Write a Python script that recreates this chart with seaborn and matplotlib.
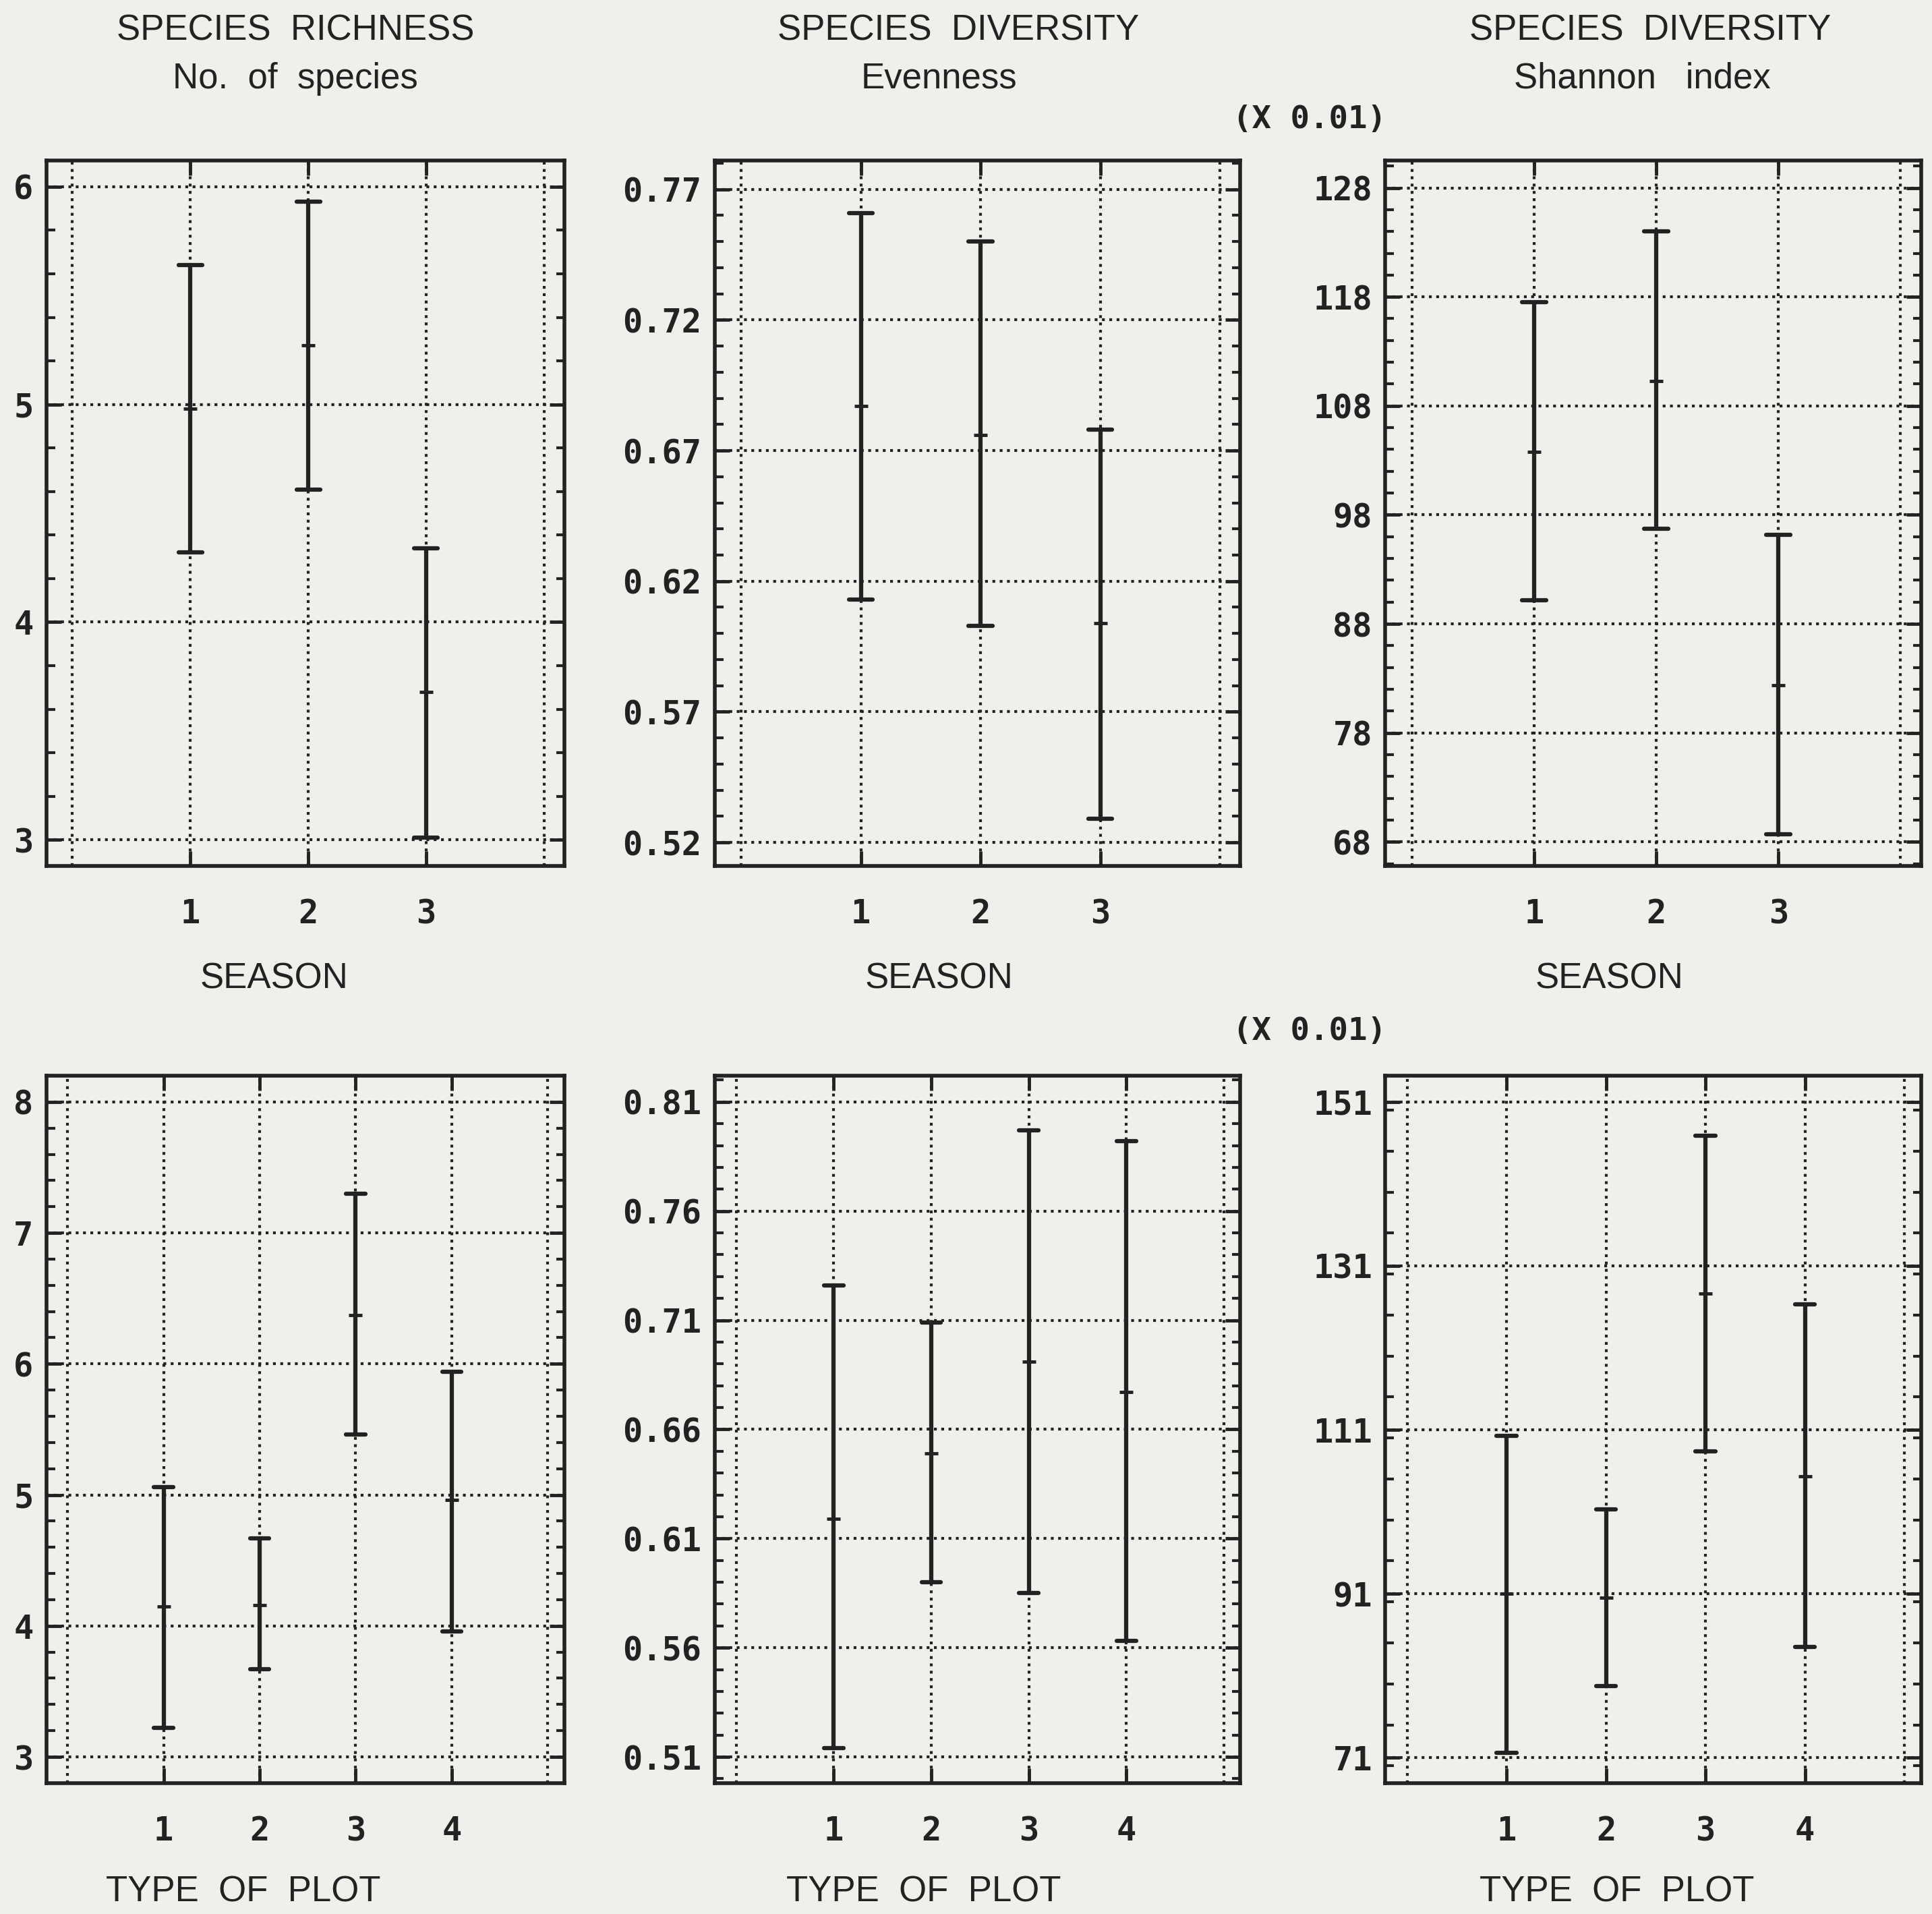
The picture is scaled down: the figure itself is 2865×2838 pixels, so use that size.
import numpy as np
import pandas as pd
import seaborn as sns
import matplotlib.pyplot as plt
from matplotlib.ticker import MultipleLocator, FixedLocator

# categories on the x axes
season = [1, 2, 3]
plot_type = [1, 2, 3, 4]

# species richness, by season: mean and lower / upper ends of the bars
rich_season_mean = [4.98, 5.27, 3.68]
rich_season_low = [4.32, 4.61, 3.01]
rich_season_high = [5.64, 5.93, 4.34]

# evenness, by season
even_season_mean = [0.687, 0.676, 0.604]
even_season_low = [0.613, 0.603, 0.529]
even_season_high = [0.761, 0.750, 0.678]

# shannon index (x 0.01), by season
shan_season_mean = [103.8, 110.3, 82.4]
shan_season_low = [90.2, 96.7, 68.7]
shan_season_high = [117.5, 124.0, 96.2]

# species richness, by type of plot
rich_type_mean = [4.15, 4.16, 6.37, 4.96]
rich_type_low = [3.22, 3.67, 5.46, 3.96]
rich_type_high = [5.06, 4.67, 7.30, 5.94]

# evenness, by type of plot
even_type_mean = [0.619, 0.649, 0.691, 0.677]
even_type_low = [0.514, 0.590, 0.585, 0.563]
even_type_high = [0.726, 0.709, 0.797, 0.792]

# shannon index (x 0.01), by type of plot
shan_type_mean = [91.0, 90.5, 127.6, 105.3]
shan_type_low = [71.6, 79.7, 108.4, 84.5]
shan_type_high = [110.3, 101.3, 146.9, 126.3]

# y tick labels
rich_season_ticks = [3, 4, 5, 6]
even_season_ticks = [0.52, 0.57, 0.62, 0.67, 0.72, 0.77]
shan_season_ticks = [68, 78, 88, 98, 108, 118, 128]
rich_type_ticks = [3, 4, 5, 6, 7, 8]
even_type_ticks = [0.51, 0.56, 0.61, 0.66, 0.71, 0.76, 0.81]
shan_type_ticks = [71, 91, 111, 131, 151]

INK = '#222222'
BG = '#efefec'

sns.set_theme(style='ticks')
plt.rcParams['font.family'] = ['Liberation Sans', 'DejaVu Sans']

fig = plt.figure(figsize=(28.65, 28.38), dpi=100, facecolor=BG)

panels = [
    # x, mean, low, high, yticks, fmt, minor, ylim, rect
    (season, rich_season_mean, rich_season_low, rich_season_high, rich_season_ticks, '{:.0f}', 0.2,
     (2.88, 6.12), [0.024, 0.5476, 0.268, 0.3685]),
    (season, even_season_mean, even_season_low, even_season_high, even_season_ticks, '{:.2f}', 0.01,
     (0.511, 0.781), [0.370, 0.5476, 0.272, 0.3685]),
    (season, shan_season_mean, shan_season_low, shan_season_high, shan_season_ticks, '{:.0f}', 2,
     (65.8, 130.5), [0.717, 0.5476, 0.2775, 0.3685]),
    (plot_type, rich_type_mean, rich_type_low, rich_type_high, rich_type_ticks, '{:.0f}', 0.2,
     (2.8, 8.2), [0.024, 0.0684, 0.268, 0.3696]),
    (plot_type, even_type_mean, even_type_low, even_type_high, even_type_ticks, '{:.2f}', 0.01,
     (0.498, 0.822), [0.370, 0.0684, 0.272, 0.3696]),
    (plot_type, shan_type_mean, shan_type_low, shan_type_high, shan_type_ticks, '{:.0f}', 5,
     (67.9, 154.2), [0.717, 0.0684, 0.2775, 0.3696]),
]

for xs, mean, low, high, yt, fmt, minor, ylim, rect in panels:
    ax = fig.add_axes(rect)
    ax.set_facecolor(BG)
    df = pd.DataFrame({
        'x': np.repeat(xs, 3),
        'val': np.ravel(np.column_stack([low, mean, high])),
    })
    # median of (low, mean, high) is the mean, full range gives the bar
    sns.pointplot(data=df, x='x', y='val', estimator='median', errorbar=('pi', 100),
                  native_scale=True, linestyle='none', marker='_', markersize=15,
                  markeredgewidth=3.5, color=INK, capsize=0.2,
                  err_kws={'linewidth': 4.5}, ax=ax)
    n = len(xs)
    for gx in range(0, n + 2):
        ax.axvline(gx, color=INK, ls=(0, (1, 1.6)), lw=3, zorder=0)
    for gy in yt:
        ax.axhline(gy, color=INK, ls=(0, (1, 1.6)), lw=3, zorder=0)
    ax.set_xlim(-0.22, n + 1.17)
    ax.set_ylim(*ylim)
    ax.xaxis.set_major_locator(FixedLocator(xs))
    ax.set_xticklabels([str(v) for v in xs])
    ax.yaxis.set_major_locator(FixedLocator(yt))
    ax.yaxis.set_minor_locator(MultipleLocator(minor))
    ax.set_yticklabels([fmt.format(v) for v in yt])
    ax.tick_params(which='both', direction='in', top=True, right=True, color=INK)
    ax.tick_params(which='major', length=16, width=3.5)
    ax.tick_params(which='minor', length=9, width=3)
    ax.tick_params(axis='x', pad=34)
    ax.tick_params(axis='y', pad=14)
    for lab in ax.get_xticklabels() + ax.get_yticklabels():
        lab.set_fontfamily('DejaVu Sans Mono')
        lab.set_fontweight('bold')
        lab.set_fontsize(35)
        lab.set_color(INK)
    for sp in ax.spines.values():
        sp.set_linewidth(4)
        sp.set_color(INK)
    ax.set_xlabel('')
    ax.set_ylabel('')

tkw = dict(ha='center', va='center', fontsize=38, color=INK)
fig.text(0.153, 0.9838, 'SPECIES  RICHNESS', **tkw)
fig.text(0.153, 0.9588, 'No.  of  species', **tkw)
fig.text(0.496, 0.9838, 'SPECIES  DIVERSITY', **tkw)
fig.text(0.486, 0.9588, 'Evenness', **tkw)
fig.text(0.854, 0.9838, 'SPECIES  DIVERSITY', **tkw)
fig.text(0.850, 0.9588, 'Shannon   index', **tkw)

for yy in [0.9376, 0.4612]:
    fig.text(0.678, yy, '(X 0.01)', ha='center', va='center', fontsize=34,
             fontfamily='DejaVu Sans Mono', fontweight='bold', color=INK)

for xx in [0.142, 0.486, 0.833]:
    fig.text(xx, 0.4884, 'SEASON', **tkw)
for xx in [0.126, 0.478, 0.837]:
    fig.text(xx, 0.0116, 'TYPE  OF  PLOT', **tkw)

fig.savefig('out.png', dpi=100, facecolor=BG)
